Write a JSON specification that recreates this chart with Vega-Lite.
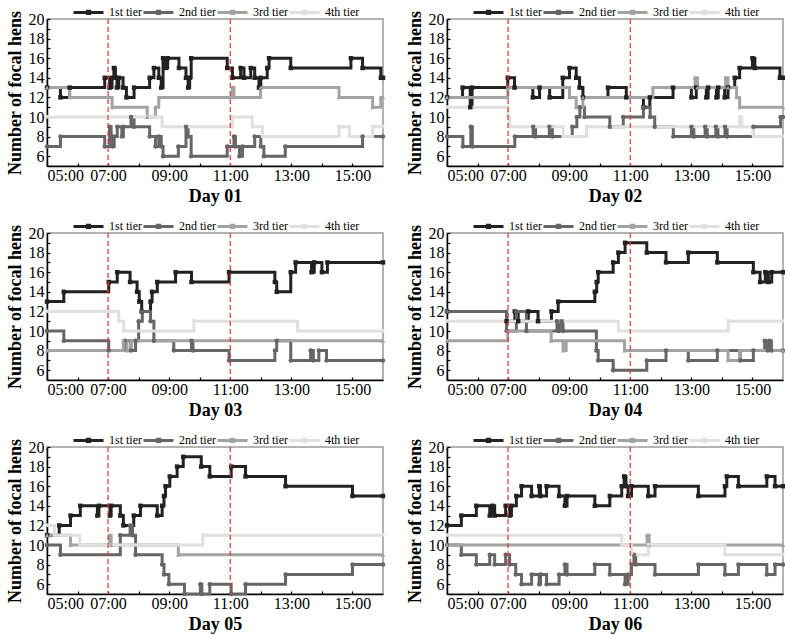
{
"$schema": "https://vega.github.io/schema/vega-lite/v6.json",
"padding": {"top": 2, "left": 5, "right": 0, "bottom": 0},
"background": "white",
"datasets": {
"tiers": [
{"d":1,"s":"1st tier","t":5,"n":13},{"d":1,"s":"1st tier","t":5.44,"n":12},{"d":1,"s":"1st tier","t":5.74,"n":13},{"d":1,"s":"1st tier","t":6.89,"n":14},{"d":1,"s":"1st tier","t":7.05,"n":13},{"d":1,"s":"1st tier","t":7.13,"n":14},{"d":1,"s":"1st tier","t":7.19,"n":15},{"d":1,"s":"1st tier","t":7.24,"n":14},{"d":1,"s":"1st tier","t":7.29,"n":13},{"d":1,"s":"1st tier","t":7.35,"n":14},{"d":1,"s":"1st tier","t":7.49,"n":13},{"d":1,"s":"1st tier","t":7.6,"n":12},{"d":1,"s":"1st tier","t":7.85,"n":13},{"d":1,"s":"1st tier","t":8.36,"n":14},{"d":1,"s":"1st tier","t":8.5,"n":15},{"d":1,"s":"1st tier","t":8.66,"n":14},{"d":1,"s":"1st tier","t":8.74,"n":13},{"d":1,"s":"1st tier","t":8.8,"n":16},{"d":1,"s":"1st tier","t":8.88,"n":15},{"d":1,"s":"1st tier","t":8.95,"n":16},{"d":1,"s":"1st tier","t":9.32,"n":15},{"d":1,"s":"1st tier","t":9.55,"n":14},{"d":1,"s":"1st tier","t":9.62,"n":13},{"d":1,"s":"1st tier","t":9.67,"n":14},{"d":1,"s":"1st tier","t":9.72,"n":16},{"d":1,"s":"1st tier","t":10.9,"n":15},{"d":1,"s":"1st tier","t":11.07,"n":14},{"d":1,"s":"1st tier","t":11.34,"n":15},{"d":1,"s":"1st tier","t":11.45,"n":14},{"d":1,"s":"1st tier","t":11.67,"n":15},{"d":1,"s":"1st tier","t":11.8,"n":14},{"d":1,"s":"1st tier","t":11.94,"n":13},{"d":1,"s":"1st tier","t":12.0,"n":14},{"d":1,"s":"1st tier","t":12.21,"n":15},{"d":1,"s":"1st tier","t":12.27,"n":16},{"d":1,"s":"1st tier","t":12.98,"n":15},{"d":1,"s":"1st tier","t":14.95,"n":16},{"d":1,"s":"1st tier","t":15.33,"n":15},{"d":1,"s":"1st tier","t":15.93,"n":14},{"d":1,"s":"1st tier","t":16,"n":14},
{"d":1,"s":"2nd tier","t":5,"n":7},{"d":1,"s":"2nd tier","t":5.44,"n":8},{"d":1,"s":"2nd tier","t":6.89,"n":7},{"d":1,"s":"2nd tier","t":7.05,"n":9},{"d":1,"s":"2nd tier","t":7.1,"n":8},{"d":1,"s":"2nd tier","t":7.15,"n":7},{"d":1,"s":"2nd tier","t":7.2,"n":8},{"d":1,"s":"2nd tier","t":7.3,"n":9},{"d":1,"s":"2nd tier","t":7.45,"n":8},{"d":1,"s":"2nd tier","t":7.5,"n":9},{"d":1,"s":"2nd tier","t":7.75,"n":10},{"d":1,"s":"2nd tier","t":7.85,"n":9},{"d":1,"s":"2nd tier","t":8.36,"n":8},{"d":1,"s":"2nd tier","t":8.55,"n":7},{"d":1,"s":"2nd tier","t":8.66,"n":8},{"d":1,"s":"2nd tier","t":8.74,"n":7},{"d":1,"s":"2nd tier","t":8.8,"n":6},{"d":1,"s":"2nd tier","t":9.3,"n":7},{"d":1,"s":"2nd tier","t":9.55,"n":9},{"d":1,"s":"2nd tier","t":9.62,"n":8},{"d":1,"s":"2nd tier","t":9.72,"n":6},{"d":1,"s":"2nd tier","t":10.9,"n":7},{"d":1,"s":"2nd tier","t":11.12,"n":8},{"d":1,"s":"2nd tier","t":11.17,"n":7},{"d":1,"s":"2nd tier","t":11.3,"n":6},{"d":1,"s":"2nd tier","t":11.4,"n":7},{"d":1,"s":"2nd tier","t":11.8,"n":8},{"d":1,"s":"2nd tier","t":12.0,"n":7},{"d":1,"s":"2nd tier","t":12.1,"n":6},{"d":1,"s":"2nd tier","t":12.8,"n":7},{"d":1,"s":"2nd tier","t":15.33,"n":8},{"d":1,"s":"2nd tier","t":16,"n":8},
{"d":1,"s":"3rd tier","t":5,"n":13},{"d":1,"s":"3rd tier","t":5.74,"n":12},{"d":1,"s":"3rd tier","t":7.13,"n":11},{"d":1,"s":"3rd tier","t":8.28,"n":10},{"d":1,"s":"3rd tier","t":8.55,"n":11},{"d":1,"s":"3rd tier","t":8.66,"n":12},{"d":1,"s":"3rd tier","t":11.07,"n":13},{"d":1,"s":"3rd tier","t":11.12,"n":12},{"d":1,"s":"3rd tier","t":11.99,"n":13},{"d":1,"s":"3rd tier","t":14.56,"n":12},{"d":1,"s":"3rd tier","t":15.66,"n":11},{"d":1,"s":"3rd tier","t":15.93,"n":12},{"d":1,"s":"3rd tier","t":16,"n":12},
{"d":1,"s":"4th tier","t":5,"n":10},{"d":1,"s":"4th tier","t":8.77,"n":9},{"d":1,"s":"4th tier","t":11.07,"n":10},{"d":1,"s":"4th tier","t":11.72,"n":9},{"d":1,"s":"4th tier","t":12.05,"n":8},{"d":1,"s":"4th tier","t":14.56,"n":9},{"d":1,"s":"4th tier","t":14.9,"n":8},{"d":1,"s":"4th tier","t":15.66,"n":9},{"d":1,"s":"4th tier","t":16,"n":9},

{"d":2,"s":"1st tier","t":5,"n":12},{"d":2,"s":"1st tier","t":5.51,"n":13},{"d":2,"s":"1st tier","t":5.76,"n":11},{"d":2,"s":"1st tier","t":5.82,"n":13},{"d":2,"s":"1st tier","t":6.99,"n":14},{"d":2,"s":"1st tier","t":7.21,"n":13},{"d":2,"s":"1st tier","t":7.81,"n":12},{"d":2,"s":"1st tier","t":8.03,"n":13},{"d":2,"s":"1st tier","t":8.36,"n":12},{"d":2,"s":"1st tier","t":8.79,"n":14},{"d":2,"s":"1st tier","t":9.01,"n":15},{"d":2,"s":"1st tier","t":9.23,"n":14},{"d":2,"s":"1st tier","t":9.34,"n":13},{"d":2,"s":"1st tier","t":9.45,"n":12},{"d":2,"s":"1st tier","t":10.27,"n":13},{"d":2,"s":"1st tier","t":10.87,"n":12},{"d":2,"s":"1st tier","t":11.43,"n":11},{"d":2,"s":"1st tier","t":11.64,"n":12},{"d":2,"s":"1st tier","t":12.4,"n":13},{"d":2,"s":"1st tier","t":13.0,"n":12},{"d":2,"s":"1st tier","t":13.16,"n":13},{"d":2,"s":"1st tier","t":13.49,"n":12},{"d":2,"s":"1st tier","t":13.55,"n":13},{"d":2,"s":"1st tier","t":13.82,"n":12},{"d":2,"s":"1st tier","t":13.88,"n":13},{"d":2,"s":"1st tier","t":14.09,"n":12},{"d":2,"s":"1st tier","t":14.2,"n":13},{"d":2,"s":"1st tier","t":14.42,"n":14},{"d":2,"s":"1st tier","t":14.58,"n":15},{"d":2,"s":"1st tier","t":15.0,"n":16},{"d":2,"s":"1st tier","t":15.08,"n":15},{"d":2,"s":"1st tier","t":15.9,"n":14},{"d":2,"s":"1st tier","t":16,"n":14},
{"d":2,"s":"2nd tier","t":5,"n":8},{"d":2,"s":"2nd tier","t":5.52,"n":7},{"d":2,"s":"2nd tier","t":5.78,"n":9},{"d":2,"s":"2nd tier","t":5.83,"n":7},{"d":2,"s":"2nd tier","t":7.22,"n":8},{"d":2,"s":"2nd tier","t":7.82,"n":9},{"d":2,"s":"2nd tier","t":7.9,"n":8},{"d":2,"s":"2nd tier","t":8.35,"n":9},{"d":2,"s":"2nd tier","t":8.45,"n":8},{"d":2,"s":"2nd tier","t":9.1,"n":9},{"d":2,"s":"2nd tier","t":9.25,"n":10},{"d":2,"s":"2nd tier","t":9.35,"n":11},{"d":2,"s":"2nd tier","t":9.5,"n":10},{"d":2,"s":"2nd tier","t":10.33,"n":9},{"d":2,"s":"2nd tier","t":10.77,"n":10},{"d":2,"s":"2nd tier","t":11.43,"n":11},{"d":2,"s":"2nd tier","t":11.65,"n":10},{"d":2,"s":"2nd tier","t":11.8,"n":9},{"d":2,"s":"2nd tier","t":12.41,"n":8},{"d":2,"s":"2nd tier","t":13.0,"n":9},{"d":2,"s":"2nd tier","t":13.08,"n":8},{"d":2,"s":"2nd tier","t":13.45,"n":9},{"d":2,"s":"2nd tier","t":13.52,"n":8},{"d":2,"s":"2nd tier","t":13.8,"n":9},{"d":2,"s":"2nd tier","t":13.87,"n":8},{"d":2,"s":"2nd tier","t":14.1,"n":9},{"d":2,"s":"2nd tier","t":14.17,"n":8},{"d":2,"s":"2nd tier","t":15.03,"n":9},{"d":2,"s":"2nd tier","t":15.92,"n":10},{"d":2,"s":"2nd tier","t":16,"n":10},
{"d":2,"s":"3rd tier","t":5,"n":12},{"d":2,"s":"3rd tier","t":6.99,"n":13},{"d":2,"s":"3rd tier","t":9.01,"n":12},{"d":2,"s":"3rd tier","t":9.23,"n":11},{"d":2,"s":"3rd tier","t":9.45,"n":12},{"d":2,"s":"3rd tier","t":11.74,"n":13},{"d":2,"s":"3rd tier","t":13.12,"n":14},{"d":2,"s":"3rd tier","t":13.2,"n":13},{"d":2,"s":"3rd tier","t":14.12,"n":14},{"d":2,"s":"3rd tier","t":14.2,"n":13},{"d":2,"s":"3rd tier","t":14.48,"n":12},{"d":2,"s":"3rd tier","t":14.58,"n":11},{"d":2,"s":"3rd tier","t":16,"n":11},
{"d":2,"s":"4th tier","t":5,"n":11},{"d":2,"s":"4th tier","t":7.0,"n":10},{"d":2,"s":"4th tier","t":7.05,"n":9},{"d":2,"s":"4th tier","t":8.8,"n":8},{"d":2,"s":"4th tier","t":9.57,"n":9},{"d":2,"s":"4th tier","t":14.58,"n":10},{"d":2,"s":"4th tier","t":14.65,"n":9},{"d":2,"s":"4th tier","t":15.03,"n":8},{"d":2,"s":"4th tier","t":16,"n":8},

{"d":3,"s":"1st tier","t":5,"n":13},{"d":3,"s":"1st tier","t":5.55,"n":14},{"d":3,"s":"1st tier","t":7.02,"n":15},{"d":3,"s":"1st tier","t":7.3,"n":16},{"d":3,"s":"1st tier","t":7.72,"n":15},{"d":3,"s":"1st tier","t":7.95,"n":14},{"d":3,"s":"1st tier","t":8.02,"n":13},{"d":3,"s":"1st tier","t":8.1,"n":12},{"d":3,"s":"1st tier","t":8.39,"n":13},{"d":3,"s":"1st tier","t":8.44,"n":14},{"d":3,"s":"1st tier","t":8.61,"n":15},{"d":3,"s":"1st tier","t":9.21,"n":16},{"d":3,"s":"1st tier","t":9.73,"n":15},{"d":3,"s":"1st tier","t":10.96,"n":16},{"d":3,"s":"1st tier","t":12.46,"n":15},{"d":3,"s":"1st tier","t":12.52,"n":14},{"d":3,"s":"1st tier","t":12.98,"n":16},{"d":3,"s":"1st tier","t":13.14,"n":17},{"d":3,"s":"1st tier","t":13.66,"n":16},{"d":3,"s":"1st tier","t":13.75,"n":17},{"d":3,"s":"1st tier","t":14.0,"n":16},{"d":3,"s":"1st tier","t":14.18,"n":17},{"d":3,"s":"1st tier","t":16,"n":17},
{"d":3,"s":"2nd tier","t":5,"n":10},{"d":3,"s":"2nd tier","t":5.55,"n":9},{"d":3,"s":"2nd tier","t":7.02,"n":8},{"d":3,"s":"2nd tier","t":7.55,"n":9},{"d":3,"s":"2nd tier","t":7.75,"n":8},{"d":3,"s":"2nd tier","t":7.9,"n":9},{"d":3,"s":"2nd tier","t":8.0,"n":11},{"d":3,"s":"2nd tier","t":8.12,"n":12},{"d":3,"s":"2nd tier","t":8.39,"n":11},{"d":3,"s":"2nd tier","t":8.5,"n":9},{"d":3,"s":"2nd tier","t":9.15,"n":8},{"d":3,"s":"2nd tier","t":9.73,"n":9},{"d":3,"s":"2nd tier","t":9.78,"n":8},{"d":3,"s":"2nd tier","t":10.96,"n":7},{"d":3,"s":"2nd tier","t":12.46,"n":8},{"d":3,"s":"2nd tier","t":12.52,"n":9},{"d":3,"s":"2nd tier","t":12.98,"n":7},{"d":3,"s":"2nd tier","t":13.63,"n":8},{"d":3,"s":"2nd tier","t":13.72,"n":7},{"d":3,"s":"2nd tier","t":13.9,"n":8},{"d":3,"s":"2nd tier","t":14.15,"n":7},{"d":3,"s":"2nd tier","t":16,"n":7},
{"d":3,"s":"3rd tier","t":5,"n":8},{"d":3,"s":"3rd tier","t":7.5,"n":9},{"d":3,"s":"3rd tier","t":7.62,"n":8},{"d":3,"s":"3rd tier","t":7.75,"n":9},{"d":3,"s":"3rd tier","t":16,"n":9},
{"d":3,"s":"4th tier","t":5,"n":12},{"d":3,"s":"4th tier","t":7.35,"n":11},{"d":3,"s":"4th tier","t":7.51,"n":10},{"d":3,"s":"4th tier","t":9.81,"n":11},{"d":3,"s":"4th tier","t":13.2,"n":10},{"d":3,"s":"4th tier","t":16,"n":10},

{"d":4,"s":"1st tier","t":5,"n":12},{"d":4,"s":"1st tier","t":6.95,"n":11},{"d":4,"s":"1st tier","t":7.22,"n":12},{"d":4,"s":"1st tier","t":7.33,"n":11},{"d":4,"s":"1st tier","t":7.66,"n":12},{"d":4,"s":"1st tier","t":7.98,"n":11},{"d":4,"s":"1st tier","t":8.42,"n":12},{"d":4,"s":"1st tier","t":8.64,"n":13},{"d":4,"s":"1st tier","t":9.84,"n":14},{"d":4,"s":"1st tier","t":9.9,"n":15},{"d":4,"s":"1st tier","t":9.95,"n":16},{"d":4,"s":"1st tier","t":10.44,"n":17},{"d":4,"s":"1st tier","t":10.61,"n":18},{"d":4,"s":"1st tier","t":10.83,"n":19},{"d":4,"s":"1st tier","t":11.54,"n":18},{"d":4,"s":"1st tier","t":12.17,"n":17},{"d":4,"s":"1st tier","t":12.9,"n":18},{"d":4,"s":"1st tier","t":13.85,"n":17},{"d":4,"s":"1st tier","t":15.03,"n":16},{"d":4,"s":"1st tier","t":15.25,"n":15},{"d":4,"s":"1st tier","t":15.42,"n":16},{"d":4,"s":"1st tier","t":15.52,"n":15},{"d":4,"s":"1st tier","t":15.63,"n":16},{"d":4,"s":"1st tier","t":16,"n":16},
{"d":4,"s":"2nd tier","t":5,"n":12},{"d":4,"s":"2nd tier","t":6.95,"n":10},{"d":4,"s":"2nd tier","t":7.27,"n":12},{"d":4,"s":"2nd tier","t":7.6,"n":10},{"d":4,"s":"2nd tier","t":8.6,"n":11},{"d":4,"s":"2nd tier","t":8.65,"n":10},{"d":4,"s":"2nd tier","t":8.75,"n":11},{"d":4,"s":"2nd tier","t":8.8,"n":10},{"d":4,"s":"2nd tier","t":9.89,"n":8},{"d":4,"s":"2nd tier","t":9.95,"n":7},{"d":4,"s":"2nd tier","t":10.44,"n":6},{"d":4,"s":"2nd tier","t":11.54,"n":7},{"d":4,"s":"2nd tier","t":12.17,"n":8},{"d":4,"s":"2nd tier","t":12.9,"n":7},{"d":4,"s":"2nd tier","t":13.85,"n":8},{"d":4,"s":"2nd tier","t":14.6,"n":7},{"d":4,"s":"2nd tier","t":15.03,"n":8},{"d":4,"s":"2nd tier","t":15.4,"n":9},{"d":4,"s":"2nd tier","t":15.5,"n":8},{"d":4,"s":"2nd tier","t":15.55,"n":9},{"d":4,"s":"2nd tier","t":15.62,"n":8},{"d":4,"s":"2nd tier","t":16,"n":8},
{"d":4,"s":"3rd tier","t":5,"n":9},{"d":4,"s":"3rd tier","t":6.99,"n":10},{"d":4,"s":"3rd tier","t":8.41,"n":9},{"d":4,"s":"3rd tier","t":8.8,"n":8},{"d":4,"s":"3rd tier","t":8.9,"n":9},{"d":4,"s":"3rd tier","t":10.81,"n":8},{"d":4,"s":"3rd tier","t":14.2,"n":7},{"d":4,"s":"3rd tier","t":14.58,"n":8},{"d":4,"s":"3rd tier","t":16,"n":8},
{"d":4,"s":"4th tier","t":5,"n":11},{"d":4,"s":"4th tier","t":10.61,"n":10},{"d":4,"s":"4th tier","t":14.21,"n":11},{"d":4,"s":"4th tier","t":16,"n":11},

{"d":5,"s":"1st tier","t":5,"n":11},{"d":5,"s":"1st tier","t":5.4,"n":12},{"d":5,"s":"1st tier","t":5.77,"n":13},{"d":5,"s":"1st tier","t":6.09,"n":14},{"d":5,"s":"1st tier","t":6.65,"n":13},{"d":5,"s":"1st tier","t":6.7,"n":14},{"d":5,"s":"1st tier","t":7.06,"n":13},{"d":5,"s":"1st tier","t":7.1,"n":14},{"d":5,"s":"1st tier","t":7.4,"n":13},{"d":5,"s":"1st tier","t":7.5,"n":12},{"d":5,"s":"1st tier","t":7.84,"n":13},{"d":5,"s":"1st tier","t":8.06,"n":14},{"d":5,"s":"1st tier","t":8.61,"n":13},{"d":5,"s":"1st tier","t":8.77,"n":14},{"d":5,"s":"1st tier","t":8.83,"n":15},{"d":5,"s":"1st tier","t":8.88,"n":16},{"d":5,"s":"1st tier","t":9.02,"n":17},{"d":5,"s":"1st tier","t":9.26,"n":18},{"d":5,"s":"1st tier","t":9.46,"n":19},{"d":5,"s":"1st tier","t":10.05,"n":18},{"d":5,"s":"1st tier","t":10.33,"n":17},{"d":5,"s":"1st tier","t":11.03,"n":18},{"d":5,"s":"1st tier","t":11.5,"n":17},{"d":5,"s":"1st tier","t":12.81,"n":16},{"d":5,"s":"1st tier","t":15.0,"n":15},{"d":5,"s":"1st tier","t":16,"n":15},
{"d":5,"s":"2nd tier","t":5,"n":10},{"d":5,"s":"2nd tier","t":5.44,"n":9},{"d":5,"s":"2nd tier","t":7.4,"n":11},{"d":5,"s":"2nd tier","t":7.72,"n":12},{"d":5,"s":"2nd tier","t":7.8,"n":11},{"d":5,"s":"2nd tier","t":7.9,"n":9},{"d":5,"s":"2nd tier","t":8.77,"n":8},{"d":5,"s":"2nd tier","t":8.83,"n":7},{"d":5,"s":"2nd tier","t":8.99,"n":6},{"d":5,"s":"2nd tier","t":9.5,"n":5},{"d":5,"s":"2nd tier","t":10.02,"n":6},{"d":5,"s":"2nd tier","t":10.07,"n":5},{"d":5,"s":"2nd tier","t":10.33,"n":6},{"d":5,"s":"2nd tier","t":11.03,"n":5},{"d":5,"s":"2nd tier","t":11.5,"n":6},{"d":5,"s":"2nd tier","t":12.81,"n":7},{"d":5,"s":"2nd tier","t":15.0,"n":8},{"d":5,"s":"2nd tier","t":16,"n":8},
{"d":5,"s":"3rd tier","t":5,"n":11},{"d":5,"s":"3rd tier","t":5.77,"n":10},{"d":5,"s":"3rd tier","t":7.05,"n":11},{"d":5,"s":"3rd tier","t":7.1,"n":10},{"d":5,"s":"3rd tier","t":9.3,"n":9},{"d":5,"s":"3rd tier","t":16,"n":9},
{"d":5,"s":"4th tier","t":5,"n":12},{"d":5,"s":"4th tier","t":5.25,"n":11},{"d":5,"s":"4th tier","t":6.07,"n":10},{"d":5,"s":"4th tier","t":10.1,"n":11},{"d":5,"s":"4th tier","t":16,"n":11},

{"d":6,"s":"1st tier","t":5,"n":12},{"d":6,"s":"1st tier","t":5.47,"n":13},{"d":6,"s":"1st tier","t":5.96,"n":14},{"d":6,"s":"1st tier","t":6.4,"n":13},{"d":6,"s":"1st tier","t":6.49,"n":14},{"d":6,"s":"1st tier","t":6.56,"n":13},{"d":6,"s":"1st tier","t":6.92,"n":14},{"d":6,"s":"1st tier","t":7.05,"n":13},{"d":6,"s":"1st tier","t":7.11,"n":14},{"d":6,"s":"1st tier","t":7.27,"n":15},{"d":6,"s":"1st tier","t":7.44,"n":16},{"d":6,"s":"1st tier","t":7.77,"n":15},{"d":6,"s":"1st tier","t":8.02,"n":16},{"d":6,"s":"1st tier","t":8.06,"n":15},{"d":6,"s":"1st tier","t":8.26,"n":16},{"d":6,"s":"1st tier","t":8.67,"n":15},{"d":6,"s":"1st tier","t":8.86,"n":14},{"d":6,"s":"1st tier","t":8.93,"n":15},{"d":6,"s":"1st tier","t":9.84,"n":14},{"d":6,"s":"1st tier","t":10.33,"n":15},{"d":6,"s":"1st tier","t":10.72,"n":16},{"d":6,"s":"1st tier","t":10.8,"n":17},{"d":6,"s":"1st tier","t":10.86,"n":16},{"d":6,"s":"1st tier","t":10.93,"n":15},{"d":6,"s":"1st tier","t":11.04,"n":16},{"d":6,"s":"1st tier","t":11.59,"n":15},{"d":6,"s":"1st tier","t":11.81,"n":16},{"d":6,"s":"1st tier","t":13.23,"n":15},{"d":6,"s":"1st tier","t":14.1,"n":16},{"d":6,"s":"1st tier","t":14.16,"n":17},{"d":6,"s":"1st tier","t":14.54,"n":16},{"d":6,"s":"1st tier","t":15.47,"n":17},{"d":6,"s":"1st tier","t":15.74,"n":16},{"d":6,"s":"1st tier","t":16,"n":16},
{"d":6,"s":"2nd tier","t":5,"n":10},{"d":6,"s":"2nd tier","t":5.47,"n":9},{"d":6,"s":"2nd tier","t":5.96,"n":8},{"d":6,"s":"2nd tier","t":6.4,"n":9},{"d":6,"s":"2nd tier","t":6.56,"n":8},{"d":6,"s":"2nd tier","t":6.92,"n":9},{"d":6,"s":"2nd tier","t":7.05,"n":8},{"d":6,"s":"2nd tier","t":7.25,"n":7},{"d":6,"s":"2nd tier","t":7.44,"n":6},{"d":6,"s":"2nd tier","t":7.77,"n":7},{"d":6,"s":"2nd tier","t":8.02,"n":6},{"d":6,"s":"2nd tier","t":8.06,"n":7},{"d":6,"s":"2nd tier","t":8.26,"n":6},{"d":6,"s":"2nd tier","t":8.67,"n":7},{"d":6,"s":"2nd tier","t":8.86,"n":8},{"d":6,"s":"2nd tier","t":8.93,"n":7},{"d":6,"s":"2nd tier","t":9.84,"n":8},{"d":6,"s":"2nd tier","t":10.33,"n":7},{"d":6,"s":"2nd tier","t":10.83,"n":6},{"d":6,"s":"2nd tier","t":10.93,"n":7},{"d":6,"s":"2nd tier","t":11.04,"n":8},{"d":6,"s":"2nd tier","t":11.12,"n":9},{"d":6,"s":"2nd tier","t":11.18,"n":8},{"d":6,"s":"2nd tier","t":11.81,"n":7},{"d":6,"s":"2nd tier","t":13.23,"n":8},{"d":6,"s":"2nd tier","t":14.1,"n":7},{"d":6,"s":"2nd tier","t":14.54,"n":8},{"d":6,"s":"2nd tier","t":15.47,"n":7},{"d":6,"s":"2nd tier","t":15.74,"n":8},{"d":6,"s":"2nd tier","t":16,"n":8},
{"d":6,"s":"3rd tier","t":5,"n":10},{"d":6,"s":"3rd tier","t":11.55,"n":11},{"d":6,"s":"3rd tier","t":11.62,"n":10},{"d":6,"s":"3rd tier","t":16,"n":10},
{"d":6,"s":"4th tier","t":5,"n":11},{"d":6,"s":"4th tier","t":10.72,"n":10},{"d":6,"s":"4th tier","t":11.04,"n":9},{"d":6,"s":"4th tier","t":11.59,"n":10},{"d":6,"s":"4th tier","t":14.1,"n":9},{"d":6,"s":"4th tier","t":16,"n":9}
],
"marks": [{"t": 7}, {"t": 11}]
},
"columns": 2,
"spacing": {"row": 10, "column": 15},
"resolve": {"legend": {"color": "independent"}},
"concat": [
{"width": 336, "height": 147, "layer": [
 {"data": {"name": "tiers"}, "transform": [{"filter": "datum.d == 1"}], "mark": {"type": "line", "interpolate": "step-after", "strokeWidth": 3},
  "encoding": {"x": {"field": "t", "type": "quantitative", "title": "Day 01", "scale": {"domain": [5, 16], "nice": false, "zero": false}, "axis": {"values": [5,6,7,8,9,10,11,12,13,14,15], "labelOverlap": false, "labelExpr": "datum.value % 2 == 1 ? (datum.value < 10 ? '0' : '') + datum.value + ':00' : ''"}},
   "y": {"field": "n", "type": "quantitative", "title": "Number of focal hens", "scale": {"domain": [5, 20], "nice": false, "zero": false}, "axis": {"values": [6,7,8,9,10,11,12,13,14,15,16,17,18,19,20], "labelOverlap": false, "labelExpr": "datum.value % 2 == 0 ? datum.value : ''"}},
   "color": {"field": "s", "type": "nominal", "scale": {"domain": ["1st tier","2nd tier","3rd tier","4th tier"], "range": ["#222222","#666666","#a3a3a3","#e0e0e0"]}, "legend": {"orient": "none", "legendX": 25, "legendY": -16, "direction": "horizontal", "title": null, "columnPadding": -10}}}},
 {"data": {"name": "tiers"}, "transform": [{"filter": "datum.d == 1"}], "mark": {"type": "point", "filled": true, "size": 20, "opacity": 1},
  "encoding": {"x": {"field": "t", "type": "quantitative", "title": "Day 01", "axis": {"values": [5,6,7,8,9,10,11,12,13,14,15], "labelOverlap": false, "labelExpr": "datum.value % 2 == 1 ? (datum.value < 10 ? '0' : '') + datum.value + ':00' : ''"}}, "y": {"field": "n", "type": "quantitative", "title": "Number of focal hens", "axis": {"values": [6,7,8,9,10,11,12,13,14,15,16,17,18,19,20], "labelOverlap": false, "labelExpr": "datum.value % 2 == 0 ? datum.value : ''"}},
   "color": {"field": "s", "type": "nominal", "legend": null}, "shape": {"field": "s", "type": "nominal", "scale": {"domain": ["1st tier","2nd tier","3rd tier","4th tier"], "range": ["square","circle","triangle-up","triangle-down"]}, "legend": null}}},
 {"data": {"name": "marks"}, "mark": {"type": "rule", "color": "#f0302a", "strokeDash": [5, 3], "strokeWidth": 1.2}, "encoding": {"x": {"field": "t", "type": "quantitative", "title": "Day 01", "axis": {"values": [5,6,7,8,9,10,11,12,13,14,15], "labelOverlap": false, "labelExpr": "datum.value % 2 == 1 ? (datum.value < 10 ? '0' : '') + datum.value + ':00' : ''"}}}}
]},
{"width": 336, "height": 147, "layer": [
 {"data": {"name": "tiers"}, "transform": [{"filter": "datum.d == 2"}], "mark": {"type": "line", "interpolate": "step-after", "strokeWidth": 3},
  "encoding": {"x": {"field": "t", "type": "quantitative", "title": "Day 02", "scale": {"domain": [5, 16], "nice": false, "zero": false}, "axis": {"values": [5,6,7,8,9,10,11,12,13,14,15], "labelOverlap": false, "labelExpr": "datum.value % 2 == 1 ? (datum.value < 10 ? '0' : '') + datum.value + ':00' : ''"}},
   "y": {"field": "n", "type": "quantitative", "title": "Number of focal hens", "scale": {"domain": [5, 20], "nice": false, "zero": false}, "axis": {"values": [6,7,8,9,10,11,12,13,14,15,16,17,18,19,20], "labelOverlap": false, "labelExpr": "datum.value % 2 == 0 ? datum.value : ''"}},
   "color": {"field": "s", "type": "nominal", "scale": {"domain": ["1st tier","2nd tier","3rd tier","4th tier"], "range": ["#222222","#666666","#a3a3a3","#e0e0e0"]}, "legend": {"orient": "none", "legendX": 25, "legendY": -16, "direction": "horizontal", "title": null, "columnPadding": -10}}}},
 {"data": {"name": "tiers"}, "transform": [{"filter": "datum.d == 2"}], "mark": {"type": "point", "filled": true, "size": 20, "opacity": 1},
  "encoding": {"x": {"field": "t", "type": "quantitative", "title": "Day 02", "axis": {"values": [5,6,7,8,9,10,11,12,13,14,15], "labelOverlap": false, "labelExpr": "datum.value % 2 == 1 ? (datum.value < 10 ? '0' : '') + datum.value + ':00' : ''"}}, "y": {"field": "n", "type": "quantitative", "title": "Number of focal hens", "axis": {"values": [6,7,8,9,10,11,12,13,14,15,16,17,18,19,20], "labelOverlap": false, "labelExpr": "datum.value % 2 == 0 ? datum.value : ''"}},
   "color": {"field": "s", "type": "nominal", "legend": null}, "shape": {"field": "s", "type": "nominal", "scale": {"domain": ["1st tier","2nd tier","3rd tier","4th tier"], "range": ["square","circle","triangle-up","triangle-down"]}, "legend": null}}},
 {"data": {"name": "marks"}, "mark": {"type": "rule", "color": "#f0302a", "strokeDash": [5, 3], "strokeWidth": 1.2}, "encoding": {"x": {"field": "t", "type": "quantitative", "title": "Day 02", "axis": {"values": [5,6,7,8,9,10,11,12,13,14,15], "labelOverlap": false, "labelExpr": "datum.value % 2 == 1 ? (datum.value < 10 ? '0' : '') + datum.value + ':00' : ''"}}}}
]},
{"width": 336, "height": 147, "layer": [
 {"data": {"name": "tiers"}, "transform": [{"filter": "datum.d == 3"}], "mark": {"type": "line", "interpolate": "step-after", "strokeWidth": 3},
  "encoding": {"x": {"field": "t", "type": "quantitative", "title": "Day 03", "scale": {"domain": [5, 16], "nice": false, "zero": false}, "axis": {"values": [5,6,7,8,9,10,11,12,13,14,15], "labelOverlap": false, "labelExpr": "datum.value % 2 == 1 ? (datum.value < 10 ? '0' : '') + datum.value + ':00' : ''"}},
   "y": {"field": "n", "type": "quantitative", "title": "Number of focal hens", "scale": {"domain": [5, 20], "nice": false, "zero": false}, "axis": {"values": [6,7,8,9,10,11,12,13,14,15,16,17,18,19,20], "labelOverlap": false, "labelExpr": "datum.value % 2 == 0 ? datum.value : ''"}},
   "color": {"field": "s", "type": "nominal", "scale": {"domain": ["1st tier","2nd tier","3rd tier","4th tier"], "range": ["#222222","#666666","#a3a3a3","#e0e0e0"]}, "legend": {"orient": "none", "legendX": 25, "legendY": -16, "direction": "horizontal", "title": null, "columnPadding": -10}}}},
 {"data": {"name": "tiers"}, "transform": [{"filter": "datum.d == 3"}], "mark": {"type": "point", "filled": true, "size": 20, "opacity": 1},
  "encoding": {"x": {"field": "t", "type": "quantitative", "title": "Day 03", "axis": {"values": [5,6,7,8,9,10,11,12,13,14,15], "labelOverlap": false, "labelExpr": "datum.value % 2 == 1 ? (datum.value < 10 ? '0' : '') + datum.value + ':00' : ''"}}, "y": {"field": "n", "type": "quantitative", "title": "Number of focal hens", "axis": {"values": [6,7,8,9,10,11,12,13,14,15,16,17,18,19,20], "labelOverlap": false, "labelExpr": "datum.value % 2 == 0 ? datum.value : ''"}},
   "color": {"field": "s", "type": "nominal", "legend": null}, "shape": {"field": "s", "type": "nominal", "scale": {"domain": ["1st tier","2nd tier","3rd tier","4th tier"], "range": ["square","circle","triangle-up","triangle-down"]}, "legend": null}}},
 {"data": {"name": "marks"}, "mark": {"type": "rule", "color": "#f0302a", "strokeDash": [5, 3], "strokeWidth": 1.2}, "encoding": {"x": {"field": "t", "type": "quantitative", "title": "Day 03", "axis": {"values": [5,6,7,8,9,10,11,12,13,14,15], "labelOverlap": false, "labelExpr": "datum.value % 2 == 1 ? (datum.value < 10 ? '0' : '') + datum.value + ':00' : ''"}}}}
]},
{"width": 336, "height": 147, "layer": [
 {"data": {"name": "tiers"}, "transform": [{"filter": "datum.d == 4"}], "mark": {"type": "line", "interpolate": "step-after", "strokeWidth": 3},
  "encoding": {"x": {"field": "t", "type": "quantitative", "title": "Day 04", "scale": {"domain": [5, 16], "nice": false, "zero": false}, "axis": {"values": [5,6,7,8,9,10,11,12,13,14,15], "labelOverlap": false, "labelExpr": "datum.value % 2 == 1 ? (datum.value < 10 ? '0' : '') + datum.value + ':00' : ''"}},
   "y": {"field": "n", "type": "quantitative", "title": "Number of focal hens", "scale": {"domain": [5, 20], "nice": false, "zero": false}, "axis": {"values": [6,7,8,9,10,11,12,13,14,15,16,17,18,19,20], "labelOverlap": false, "labelExpr": "datum.value % 2 == 0 ? datum.value : ''"}},
   "color": {"field": "s", "type": "nominal", "scale": {"domain": ["1st tier","2nd tier","3rd tier","4th tier"], "range": ["#222222","#666666","#a3a3a3","#e0e0e0"]}, "legend": {"orient": "none", "legendX": 25, "legendY": -16, "direction": "horizontal", "title": null, "columnPadding": -10}}}},
 {"data": {"name": "tiers"}, "transform": [{"filter": "datum.d == 4"}], "mark": {"type": "point", "filled": true, "size": 20, "opacity": 1},
  "encoding": {"x": {"field": "t", "type": "quantitative", "title": "Day 04", "axis": {"values": [5,6,7,8,9,10,11,12,13,14,15], "labelOverlap": false, "labelExpr": "datum.value % 2 == 1 ? (datum.value < 10 ? '0' : '') + datum.value + ':00' : ''"}}, "y": {"field": "n", "type": "quantitative", "title": "Number of focal hens", "axis": {"values": [6,7,8,9,10,11,12,13,14,15,16,17,18,19,20], "labelOverlap": false, "labelExpr": "datum.value % 2 == 0 ? datum.value : ''"}},
   "color": {"field": "s", "type": "nominal", "legend": null}, "shape": {"field": "s", "type": "nominal", "scale": {"domain": ["1st tier","2nd tier","3rd tier","4th tier"], "range": ["square","circle","triangle-up","triangle-down"]}, "legend": null}}},
 {"data": {"name": "marks"}, "mark": {"type": "rule", "color": "#f0302a", "strokeDash": [5, 3], "strokeWidth": 1.2}, "encoding": {"x": {"field": "t", "type": "quantitative", "title": "Day 04", "axis": {"values": [5,6,7,8,9,10,11,12,13,14,15], "labelOverlap": false, "labelExpr": "datum.value % 2 == 1 ? (datum.value < 10 ? '0' : '') + datum.value + ':00' : ''"}}}}
]},
{"width": 336, "height": 147, "layer": [
 {"data": {"name": "tiers"}, "transform": [{"filter": "datum.d == 5"}], "mark": {"type": "line", "interpolate": "step-after", "strokeWidth": 3},
  "encoding": {"x": {"field": "t", "type": "quantitative", "title": "Day 05", "scale": {"domain": [5, 16], "nice": false, "zero": false}, "axis": {"values": [5,6,7,8,9,10,11,12,13,14,15], "labelOverlap": false, "labelExpr": "datum.value % 2 == 1 ? (datum.value < 10 ? '0' : '') + datum.value + ':00' : ''"}},
   "y": {"field": "n", "type": "quantitative", "title": "Number of focal hens", "scale": {"domain": [5, 20], "nice": false, "zero": false}, "axis": {"values": [6,7,8,9,10,11,12,13,14,15,16,17,18,19,20], "labelOverlap": false, "labelExpr": "datum.value % 2 == 0 ? datum.value : ''"}},
   "color": {"field": "s", "type": "nominal", "scale": {"domain": ["1st tier","2nd tier","3rd tier","4th tier"], "range": ["#222222","#666666","#a3a3a3","#e0e0e0"]}, "legend": {"orient": "none", "legendX": 25, "legendY": -16, "direction": "horizontal", "title": null, "columnPadding": -10}}}},
 {"data": {"name": "tiers"}, "transform": [{"filter": "datum.d == 5"}], "mark": {"type": "point", "filled": true, "size": 20, "opacity": 1},
  "encoding": {"x": {"field": "t", "type": "quantitative", "title": "Day 05", "axis": {"values": [5,6,7,8,9,10,11,12,13,14,15], "labelOverlap": false, "labelExpr": "datum.value % 2 == 1 ? (datum.value < 10 ? '0' : '') + datum.value + ':00' : ''"}}, "y": {"field": "n", "type": "quantitative", "title": "Number of focal hens", "axis": {"values": [6,7,8,9,10,11,12,13,14,15,16,17,18,19,20], "labelOverlap": false, "labelExpr": "datum.value % 2 == 0 ? datum.value : ''"}},
   "color": {"field": "s", "type": "nominal", "legend": null}, "shape": {"field": "s", "type": "nominal", "scale": {"domain": ["1st tier","2nd tier","3rd tier","4th tier"], "range": ["square","circle","triangle-up","triangle-down"]}, "legend": null}}},
 {"data": {"name": "marks"}, "mark": {"type": "rule", "color": "#f0302a", "strokeDash": [5, 3], "strokeWidth": 1.2}, "encoding": {"x": {"field": "t", "type": "quantitative", "title": "Day 05", "axis": {"values": [5,6,7,8,9,10,11,12,13,14,15], "labelOverlap": false, "labelExpr": "datum.value % 2 == 1 ? (datum.value < 10 ? '0' : '') + datum.value + ':00' : ''"}}}}
]},
{"width": 336, "height": 147, "layer": [
 {"data": {"name": "tiers"}, "transform": [{"filter": "datum.d == 6"}], "mark": {"type": "line", "interpolate": "step-after", "strokeWidth": 3},
  "encoding": {"x": {"field": "t", "type": "quantitative", "title": "Day 06", "scale": {"domain": [5, 16], "nice": false, "zero": false}, "axis": {"values": [5,6,7,8,9,10,11,12,13,14,15], "labelOverlap": false, "labelExpr": "datum.value % 2 == 1 ? (datum.value < 10 ? '0' : '') + datum.value + ':00' : ''"}},
   "y": {"field": "n", "type": "quantitative", "title": "Number of focal hens", "scale": {"domain": [5, 20], "nice": false, "zero": false}, "axis": {"values": [6,7,8,9,10,11,12,13,14,15,16,17,18,19,20], "labelOverlap": false, "labelExpr": "datum.value % 2 == 0 ? datum.value : ''"}},
   "color": {"field": "s", "type": "nominal", "scale": {"domain": ["1st tier","2nd tier","3rd tier","4th tier"], "range": ["#222222","#666666","#a3a3a3","#e0e0e0"]}, "legend": {"orient": "none", "legendX": 25, "legendY": -16, "direction": "horizontal", "title": null, "columnPadding": -10}}}},
 {"data": {"name": "tiers"}, "transform": [{"filter": "datum.d == 6"}], "mark": {"type": "point", "filled": true, "size": 20, "opacity": 1},
  "encoding": {"x": {"field": "t", "type": "quantitative", "title": "Day 06", "axis": {"values": [5,6,7,8,9,10,11,12,13,14,15], "labelOverlap": false, "labelExpr": "datum.value % 2 == 1 ? (datum.value < 10 ? '0' : '') + datum.value + ':00' : ''"}}, "y": {"field": "n", "type": "quantitative", "title": "Number of focal hens", "axis": {"values": [6,7,8,9,10,11,12,13,14,15,16,17,18,19,20], "labelOverlap": false, "labelExpr": "datum.value % 2 == 0 ? datum.value : ''"}},
   "color": {"field": "s", "type": "nominal", "legend": null}, "shape": {"field": "s", "type": "nominal", "scale": {"domain": ["1st tier","2nd tier","3rd tier","4th tier"], "range": ["square","circle","triangle-up","triangle-down"]}, "legend": null}}},
 {"data": {"name": "marks"}, "mark": {"type": "rule", "color": "#f0302a", "strokeDash": [5, 3], "strokeWidth": 1.2}, "encoding": {"x": {"field": "t", "type": "quantitative", "title": "Day 06", "axis": {"values": [5,6,7,8,9,10,11,12,13,14,15], "labelOverlap": false, "labelExpr": "datum.value % 2 == 1 ? (datum.value < 10 ? '0' : '') + datum.value + ':00' : ''"}}}}
]}
],
"config": {
 "font": "Liberation Serif",
 "view": {"stroke": "#9a9a9a", "strokeWidth": 1.5},
 "axis": {"labelFont": "Liberation Serif", "labelFontSize": 16, "labelColor": "#000", "labelOverlap": false, "titleFont": "Liberation Serif", "titleFontSize": 18, "titleFontWeight": "bold", "titleColor": "#000", "domainColor": "#000", "domainWidth": 1.5, "tickColor": "#000", "tickSize": -3, "tickWidth": 1.2, "grid": false},
 "axisX": {"labelPadding": 4, "titlePadding": 4},
 "axisY": {"labelPadding": 6, "titlePadding": 4},
 "legend": {"labelFont": "Liberation Serif", "labelFontSize": 12, "labelColor": "#000", "symbolType": "M-1,0L3,0M0.85,-0.15L1.15,-0.15L1.15,0.15L0.85,0.15Z", "symbolSize": 225, "symbolStrokeWidth": 3, "labelOffset": 19}
}
}
